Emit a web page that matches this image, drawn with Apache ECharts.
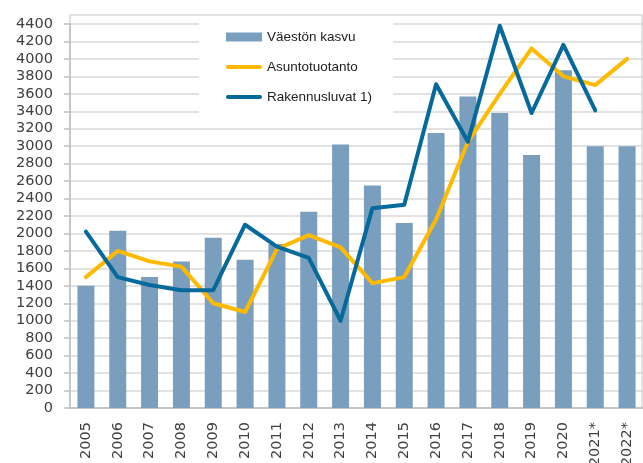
<!DOCTYPE html>
<html>
<head>
<meta charset="utf-8">
<script src="https://cdn.jsdelivr.net/npm/echarts@6/dist/echarts.min.js"></script>
<style>
  html, body { margin: 0; padding: 0; background: #fff; }
  #chart { width: 643px; height: 463px; }
</style>
</head>
<body>
<div id="chart"></div>
<script>
var years = ['2005', '2006', '2007', '2008', '2009', '2010', '2011', '2012', '2013',
             '2014', '2015', '2016', '2017', '2018', '2019', '2020', '2021*', '2022*'];
var vaestonKasvu = [1400, 2030, 1500, 1680, 1950, 1700, 1880, 2250, 3020,
                    2550, 2120, 3150, 3570, 3380, 2900, 3870, 3000, 3000];
var asuntotuotanto = [1500, 1800, 1680, 1620, 1200, 1100, 1820, 1980, 1840,
                      1430, 1500, 2160, 3050, 3600, 4120, 3800, 3700, 4000];
var rakennusluvat = [2020, 1500, 1410, 1350, 1350, 2100, 1850, 1720, 1000,
                     2290, 2330, 3710, 3050, 4380, 3380, 4160, 3410, null];

var myChart = echarts.init(document.getElementById('chart'));
var axisFont = { fontFamily: 'DejaVu Sans', fontSize: 14.5, color: '#404040' };
// thin rounded bar used as legend icon for the two lines
var lineIcon = 'path://M2,0 L36,0 A2,2 0 0 1 36,4 L2,4 A2,2 0 0 1 2,0 Z';

var option = {
    animation: false,
    grid: { left: 70, right: 0, top: 24, bottom: 55, containLabel: false, outerBoundsMode: 'none' },
    graphic: [{
        type: 'rect',
        z: 0,
        shape: { x: 70, y: 15, width: 572, height: 393 },
        style: { fill: 'none', stroke: '#d9d9d9', lineWidth: 1.5 }
    }],
    legend: {
        orient: 'vertical',
        left: 199,
        top: 16,
        padding: [13, 21, 15, 27],
        backgroundColor: '#fff',
        itemWidth: 36,
        itemHeight: 9,
        itemGap: 14,
        symbolKeepAspect: true,
        textStyle: { fontFamily: 'Liberation Sans', fontSize: 13.5, color: '#222', lineHeight: 16 },
        data: [
            { name: 'Väestön kasvu', icon: 'rect' },
            { name: 'Asuntotuotanto', icon: lineIcon },
            { name: 'Rakennusluvat 1)', icon: lineIcon }
        ]
    },
    xAxis: {
        type: 'category',
        data: years,
        axisLine: { lineStyle: { color: '#bfbfbf', width: 1.5 } },
        axisTick: { length: 6, lineStyle: { color: '#bfbfbf', width: 1.5 } },
        axisLabel: Object.assign({ rotate: 90, margin: 14, interval: 0 }, axisFont)
    },
    yAxis: {
        type: 'value',
        min: 0,
        max: 4400,
        interval: 200,
        axisLine: { show: true, lineStyle: { color: '#bfbfbf', width: 1.5 } },
        axisTick: { show: true, length: 6, lineStyle: { color: '#bfbfbf', width: 1.5 } },
        splitLine: { lineStyle: { color: '#d9d9d9', width: 1.5 } },
        axisLabel: Object.assign({
            margin: 17,
            formatter: function (v) { return String(v); }
        }, axisFont)
    },
    series: [
        {
            name: 'Väestön kasvu',
            type: 'bar',
            data: vaestonKasvu,
            barWidth: 17,
            itemStyle: { color: '#7a9ebd' }
        },
        {
            name: 'Asuntotuotanto',
            type: 'line',
            data: asuntotuotanto,
            symbol: 'none',
            lineStyle: { color: '#ffba00', width: 4, join: 'round', cap: 'round' },
            itemStyle: { color: '#ffba00' }
        },
        {
            name: 'Rakennusluvat 1)',
            type: 'line',
            data: rakennusluvat,
            symbol: 'none',
            lineStyle: { color: '#05699b', width: 4, join: 'round', cap: 'round' },
            itemStyle: { color: '#05699b' }
        }
    ]
};
myChart.setOption(option);
</script>
</body>
</html>
